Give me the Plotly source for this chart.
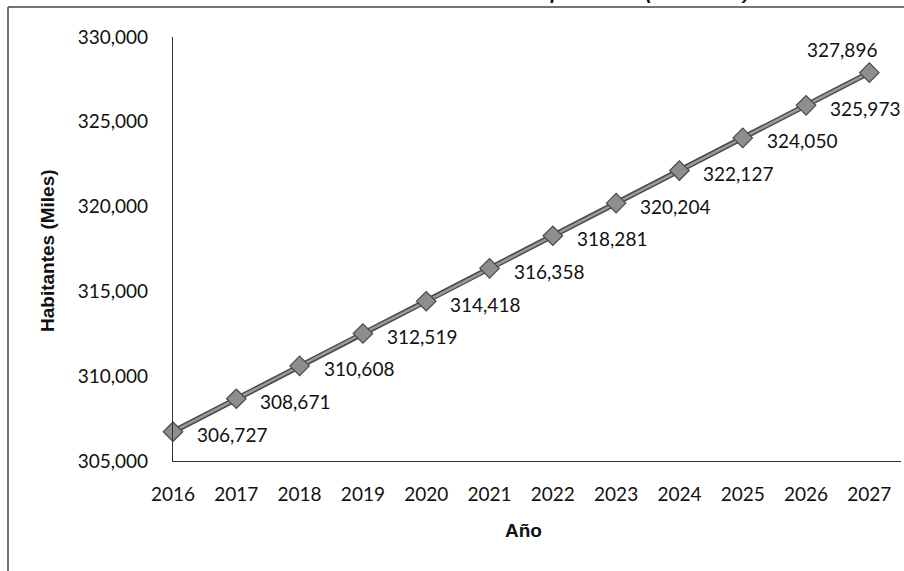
import plotly.graph_objects as go

years = [2016, 2017, 2018, 2019, 2020, 2021, 2022, 2023, 2024, 2025, 2026, 2027]
habitantes = [306727, 308671, 310608, 312519, 314418, 316358, 318281, 320204,
              322127, 324050, 325973, 327896]
y_ticks = [305000, 310000, 315000, 320000, 325000, 330000]

W, H = 904, 571
L, R, T, B = 173, 3, 37, 110
pw, ph = W - L - R, H - T - B

def px_x(p):
    return (p - L) / pw

def px_y(p):
    return (H - B - p) / ph

font_main = "Lato, 'Open Sans', sans-serif"
font_bold = "'Liberation Sans', Arial, sans-serif"

fig = go.Figure()
# dark outline of the line
fig.add_trace(go.Scatter(x=years, y=habitantes, mode="lines",
                         line=dict(color="#4a4a4a", width=5.5),
                         hoverinfo="skip", showlegend=False, cliponaxis=False))
# lighter core with diamonds
fig.add_trace(go.Scatter(x=years, y=habitantes, mode="lines+markers",
                         line=dict(color="#9a9a9a", width=2.5),
                         marker=dict(symbol="diamond", size=15, color="#8e8e8e",
                                     line=dict(color="#4a4a4a", width=1.2)),
                         showlegend=False, cliponaxis=False))

annotations = []
for i, (yr, v) in enumerate(zip(years, habitantes)):
    if i == len(years) - 1:
        annotations.append(dict(x=yr, y=v, xref="x", yref="y", text=f"{v:,}",
                                showarrow=False, xanchor="center", yanchor="middle",
                                xshift=-27, yshift=23,
                                font=dict(family=font_main, size=19, color="#111")))
    else:
        annotations.append(dict(x=yr, y=v, xref="x", yref="y", text=f"{v:,}",
                                showarrow=False, xanchor="left", yanchor="middle",
                                xshift=22, yshift=-3,
                                font=dict(family=font_main, size=19, color="#111")))

annotations.append(dict(x=px_x(47), y=px_y(251), xref="paper", yref="paper",
                        text="<b>Habitantes (Miles)</b>", textangle=-90, showarrow=False,
                        xanchor="center", yanchor="middle",
                        font=dict(family=font_bold, size=19, color="#111")))
annotations.append(dict(x=px_x(523), y=px_y(530), xref="paper", yref="paper",
                        text="<b>Año</b>", showarrow=False,
                        xanchor="center", yanchor="middle",
                        font=dict(family=font_bold, size=19, color="#111")))
# partially cut caption at the very top of the scan
annotations.append(dict(x=px_x(510), y=px_y(5), xref="paper", yref="paper",
                        text="<b><i>Ilustración 9: Estimación de la población (2016-2027)</i></b>",
                        showarrow=False, xanchor="center", yanchor="bottom",
                        font=dict(family=font_bold, size=19, color="#111")))

shapes = [
    dict(type="line", xref="paper", yref="paper", x0=px_x(8), x1=px_x(904),
         y0=px_y(7), y1=px_y(7), line=dict(color="#444", width=1.5)),
    dict(type="line", xref="paper", yref="paper", x0=px_x(8), x1=px_x(8),
         y0=px_y(7), y1=px_y(571), line=dict(color="#444", width=1.5)),
]

fig.update_layout(
    width=W, height=H,
    margin=dict(l=L, r=R, t=T, b=B, pad=0),
    paper_bgcolor="white", plot_bgcolor="white",
    annotations=annotations, shapes=shapes,
    xaxis=dict(range=[2016, 2027.5], tickmode="array", tickvals=years,
               ticktext=[str(y) for y in years], showgrid=False, zeroline=False,
               showline=True, linecolor="#333", linewidth=1.2, ticks="",
               ticklabelstandoff=16,
               tickfont=dict(family=font_main, size=19, color="#111")),
    yaxis=dict(range=[305000, 330000], tickmode="array", tickvals=y_ticks,
               ticktext=[f"{v:,}" for v in y_ticks], showgrid=False, zeroline=False,
               showline=True, linecolor="#333", linewidth=1.2, ticks="",
               ticklabelstandoff=20,
               tickfont=dict(family=font_main, size=19, color="#111")),
)

fig.write_html("out.html", config={"displayModeBar": False},
               post_script="document.body.style.margin='0';"
                           "document.body.style.overflow='hidden';")
